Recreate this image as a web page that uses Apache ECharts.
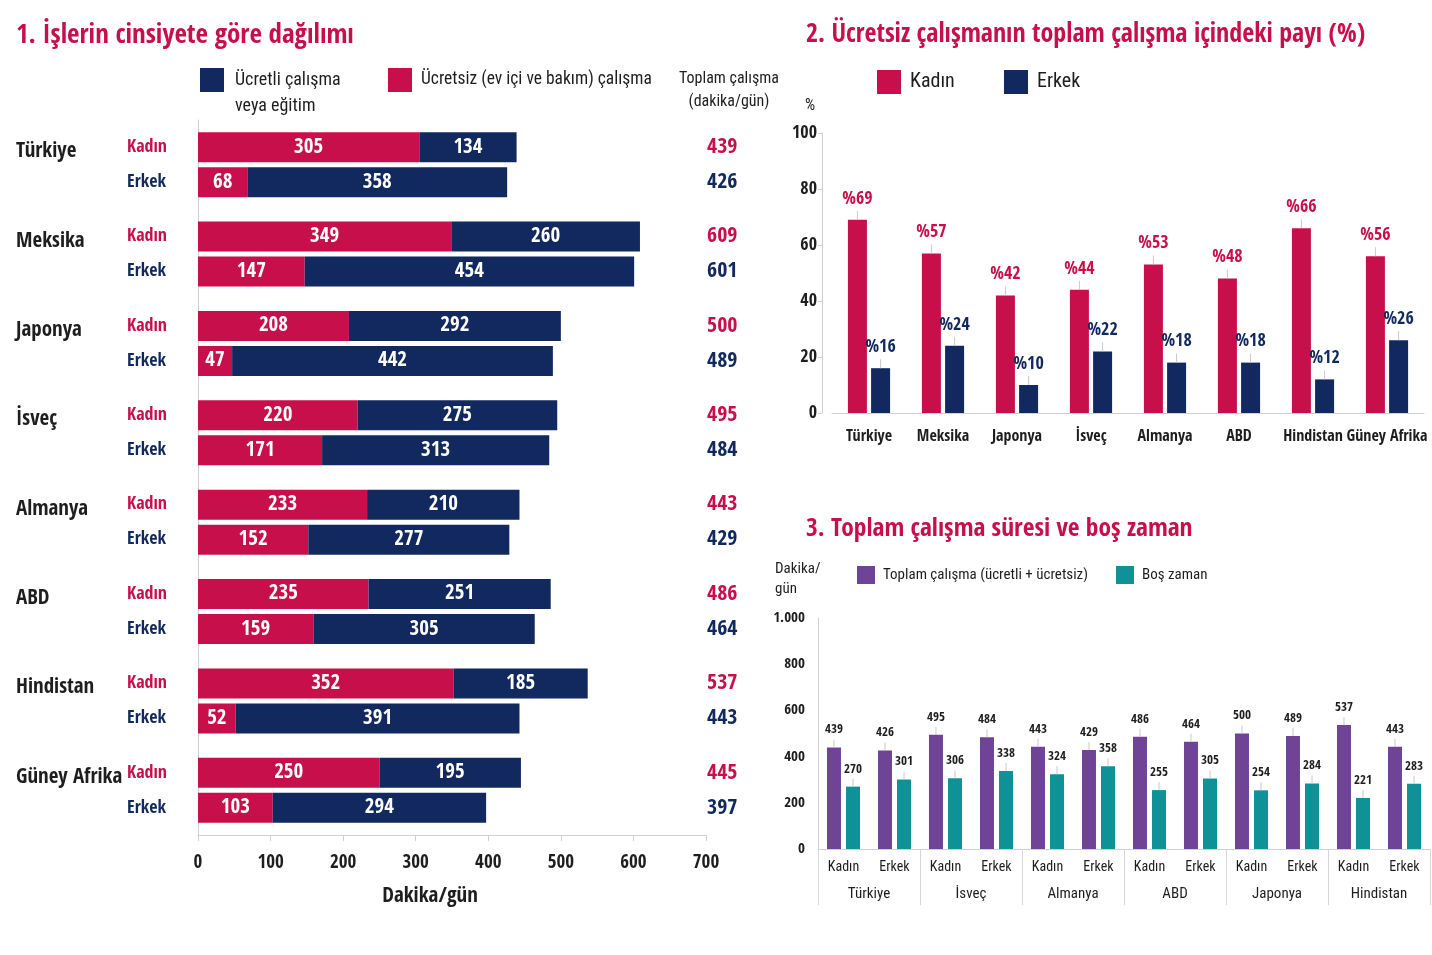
<!DOCTYPE html>
<html><head><meta charset="utf-8">
<script src="https://cdn.jsdelivr.net/npm/echarts@6/dist/echarts.min.js"></script>
<style>html,body{margin:0;padding:0;background:#fff}#c{width:1432px;height:955px}</style>
</head><body><div id="c"></div>
<script>
// ---- Chart 1 data ----
const countries1 = ['Türkiye','Meksika','Japonya','İsveç','Almanya','ABD','Hindistan','Güney Afrika'];
const womenUnpaid = [305,349,208,220,233,235,352,250];
const womenPaid   = [134,260,292,275,210,251,185,195];
const menUnpaid   = [68,147,47,171,152,159,52,103];
const menPaid     = [358,454,442,313,277,305,391,294];
const womenTotal  = [439,609,500,495,443,486,537,445];
const menTotal    = [426,601,489,484,429,464,443,397];
const xTicks1 = [0,100,200,300,400,500,600,700];
// ---- Chart 2 data ----
const countries2 = ['Türkiye','Meksika','Japonya','İsveç','Almanya','ABD','Hindistan','Güney Afrika'];
const womenShare = [69,57,42,44,53,48,66,56];
const menShare   = [16,24,10,22,18,18,12,26];
// ---- Chart 3 data ----
const countries3 = ['Türkiye','İsveç','Almanya','ABD','Japonya','Hindistan'];
const sexes3 = ['Kadın','Erkek'];
const totalWork = [439,426,495,484,443,429,486,464,500,489,537,443];
const leisure   = [270,301,306,338,324,358,255,305,254,284,221,283];

const CR = '#c70f4b', NV = '#11295e', PU = '#6f4396', TE = '#0e9197';
const FB = "'Open Sans Condensed','Roboto Condensed',sans-serif";
const FR = "'Roboto Condensed','Open Sans Condensed',sans-serif";
const TXT = '#1e1e1e';
const TICK = '#c9c9cf';
const cats3 = [];
countries3.forEach(() => sexes3.forEach(s => cats3.push(s)));

const chart = echarts.init(document.getElementById('c'));
const labelInside = {show: true, position: 'inside', color: '#fff', fontSize: 21, fontWeight: 'bold', fontFamily: FB};
const topLabel = (prefix, color, size, font, weight, tickH) => ({
  show: true, position: 'top', distance: 0,
  formatter: p => `{v|${prefix}${p.value}}\n{t| }`,
  rich: {
    v: {color: color, fontSize: size, fontFamily: font, fontWeight: weight, lineHeight: size + 6},
    t: {width: 1, height: tickH, lineHeight: tickH, backgroundColor: TICK, fontSize: 1}
  }
});

chart.setOption({
  animation: false,
  textStyle: {fontFamily: FR},
  title: [
    {text: '1. İşlerin cinsiyete göre dağılımı', left: 16, top: 22, padding: 0, textStyle: {color: CR, fontSize: 27, fontWeight: 'bold', fontFamily: FB}},
    {text: '2. Ücretsiz çalışmanın toplam çalışma içindeki payı (%)', left: 806, top: 22, padding: 0, textStyle: {color: CR, fontSize: 26, fontWeight: 'bold', fontFamily: FB}},
    {text: '3. Toplam çalışma süresi ve boş zaman', left: 806, top: 516, padding: 0, textStyle: {color: CR, fontSize: 25.5, fontWeight: 'bold', fontFamily: FB}},
    {text: 'veya eğitim', left: 235, top: 97, padding: 0, textStyle: {color: TXT, fontSize: 18, fontWeight: 'normal', fontFamily: FR}},
    {text: 'Toplam çalışma\n(dakika/gün)', left: 729, top: 67, padding: 0, textAlign: 'center', textStyle: {color: TXT, fontSize: 16, fontWeight: 'normal', lineHeight: 23, fontFamily: FR}},
    {text: '%', left: 805, top: 98, padding: 0, textStyle: {color: TXT, fontSize: 16, fontWeight: 'normal', fontFamily: FR}},
    {text: 'Dakika/\ngün', left: 775, top: 559, padding: 0, textStyle: {color: TXT, fontSize: 15, fontWeight: 'normal', lineHeight: 20, fontFamily: FR}}
  ],
  legend: [
    {data: ['Ücretli'], left: 200, top: 68, padding: 0, itemWidth: 24, itemHeight: 24, icon: 'rect',
     formatter: () => 'Ücretli çalışma',
     textStyle: {fontSize: 18, color: TXT, padding: [8, 0, 0, 6], fontFamily: FR}},
    {data: ['Ücretsiz'], left: 388, top: 68, padding: 0, itemWidth: 24, itemHeight: 24, icon: 'rect',
     formatter: () => 'Ücretsiz (ev içi ve bakım) çalışma',
     textStyle: {fontSize: 17.5, color: TXT, padding: [8, 0, 0, 4], fontFamily: FR}},
    {data: ['Kadın'], left: 877, top: 70, padding: 0, itemWidth: 24, itemHeight: 24, icon: 'rect',
     textStyle: {fontSize: 20, color: TXT, padding: [5, 0, 0, 4], fontFamily: FR}},
    {data: ['Erkek'], left: 1004, top: 70, padding: 0, itemWidth: 24, itemHeight: 24, icon: 'rect',
     textStyle: {fontSize: 20, color: TXT, padding: [5, 0, 0, 4], fontFamily: FR}},
    {data: ['Toplam çalışma (ücretli + ücretsiz)'], left: 857, top: 566, padding: 0, itemWidth: 18, itemHeight: 18, icon: 'rect',
     textStyle: {fontSize: 15, color: TXT, padding: [6, 0, 0, 3], fontFamily: FR}},
    {data: ['Boş zaman'], left: 1116, top: 566, padding: 0, itemWidth: 18, itemHeight: 18, icon: 'rect',
     textStyle: {fontSize: 15, color: TXT, padding: [6, 0, 0, 3], fontFamily: FR}}
  ],
  grid: [
    {left: 198, right: 726, top: 120, bottom: 120},
    {left: 832, right: 8, top: 133, bottom: 542},
    {left: 818, right: 2, top: 618, bottom: 106}
  ],
  xAxis: [
    {gridIndex: 0, type: 'value', min: 0, max: 700, interval: 100,
     name: 'Dakika/gün', nameLocation: 'middle', nameGap: 51,
     nameTextStyle: {fontSize: 21, color: TXT, fontWeight: 'bold', padding: [0, 44, 0, 0], fontFamily: FB},
     axisLine: {show: true, lineStyle: {color: '#cfcfd6'}},
     axisTick: {show: true, length: 6, lineStyle: {color: '#cfcfd6'}},
     splitLine: {show: false},
     axisLabel: {fontSize: 19, color: TXT, margin: 19, fontFamily: FB, fontWeight: 'bold', formatter: v => xTicks1.includes(v) ? String(v) : ''}},
    {gridIndex: 1, type: 'category', data: countries2,
     axisLine: {show: true, lineStyle: {color: '#cfcfd6'}}, axisTick: {show: false},
     axisLabel: {fontSize: 16, color: TXT, margin: 16, interval: 0, fontFamily: FB}},
    {gridIndex: 2, type: 'category', data: cats3,
     axisLine: {show: true, lineStyle: {color: '#cfcfd6'}}, axisTick: {show: false},
     axisLabel: {fontSize: 14, color: TXT, margin: 11, interval: 0, fontFamily: FR}},
    {gridIndex: 2, type: 'category', data: countries3, position: 'bottom',
     axisLine: {show: false},
     axisTick: {show: true, length: 56, lineStyle: {color: '#d6d6dc'}},
     axisLabel: {fontSize: 15, color: TXT, margin: 38, interval: 0, fontFamily: FR}}
  ],
  yAxis: [
    {gridIndex: 0, type: 'category', data: countries1, inverse: true,
     axisLine: {show: true, lineStyle: {color: '#cfcfd6'}}, axisTick: {show: false},
     axisLabel: {align: 'left', margin: 182, interval: 0,
       formatter: (v) => `{c|${v}}{k|Kadın}\n{c| }{e|Erkek}`,
       rich: {
         c: {width: 111, fontSize: 21, fontWeight: 'bold', color: TXT, lineHeight: 35, fontFamily: FB, padding: [9, 0, 0, 0]},
         k: {fontSize: 18, color: CR, lineHeight: 35, fontWeight: 'bold', fontFamily: FB},
         e: {fontSize: 18, color: NV, lineHeight: 35, fontWeight: 'bold', fontFamily: FB}
       }}},
    {gridIndex: 0, type: 'category', data: countries1, inverse: true, position: 'right',
     axisLine: {show: false}, axisTick: {show: false},
     axisLabel: {align: 'left', margin: 1, interval: 0,
       formatter: (v, i) => `{k|${womenTotal[i]}}\n{e|${menTotal[i]}}`,
       rich: {
         k: {fontSize: 22, fontWeight: 'bold', color: CR, lineHeight: 35, fontFamily: FB},
         e: {fontSize: 22, fontWeight: 'bold', color: NV, lineHeight: 35, fontFamily: FB}
       }}},
    {gridIndex: 1, type: 'value', min: 0, max: 100, interval: 20, offset: 10,
     axisLine: {show: true, lineStyle: {color: '#cfcfd6'}},
     axisTick: {show: true, length: 4, lineStyle: {color: '#cfcfd6'}},
     splitLine: {show: false},
     axisLabel: {fontSize: 18, color: TXT, margin: 5, fontFamily: FB}},
    {gridIndex: 2, type: 'value', min: 0, max: 1000, interval: 200,
     axisLine: {show: true, lineStyle: {color: '#cfcfd6'}},
     axisTick: {show: false},
     splitLine: {show: false},
     axisLabel: {fontSize: 15, color: TXT, margin: 13, fontFamily: FB,
       formatter: v => v >= 1000 ? (v / 1000) + '.000' : String(v)}}
  ],
  series: [
    {name: 'Ücretsiz', type: 'bar', stack: 'k', xAxisIndex: 0, yAxisIndex: 0, data: womenUnpaid,
     barWidth: 30, barGap: '17%', itemStyle: {color: CR}, label: labelInside},
    {name: 'Ücretli', type: 'bar', stack: 'k', xAxisIndex: 0, yAxisIndex: 0, data: womenPaid,
     barWidth: 30, barGap: '17%', itemStyle: {color: NV}, label: labelInside},
    {name: 'Ücretsiz', type: 'bar', stack: 'e', xAxisIndex: 0, yAxisIndex: 0, data: menUnpaid,
     barWidth: 30, barGap: '17%', itemStyle: {color: CR}, label: labelInside},
    {name: 'Ücretli', type: 'bar', stack: 'e', xAxisIndex: 0, yAxisIndex: 0, data: menPaid,
     barWidth: 30, barGap: '17%', itemStyle: {color: NV}, label: labelInside},

    {name: 'Kadın', type: 'bar', xAxisIndex: 1, yAxisIndex: 2, data: womenShare,
     barWidth: 19, barGap: '22%', itemStyle: {color: CR},
     label: topLabel('%', CR, 18, FB, 'bold', 9)},
    {name: 'Erkek', type: 'bar', xAxisIndex: 1, yAxisIndex: 2, data: menShare,
     barWidth: 19, barGap: '22%', itemStyle: {color: NV},
     label: topLabel('%', NV, 18, FB, 'bold', 9)},

    {name: 'Toplam çalışma (ücretli + ücretsiz)', type: 'bar', xAxisIndex: 2, yAxisIndex: 3, data: totalWork,
     barWidth: 14, barGap: '36%', itemStyle: {color: PU},
     label: topLabel('', TXT, 13, FB, 'normal', 8)},
    {name: 'Boş zaman', type: 'bar', xAxisIndex: 2, yAxisIndex: 3, data: leisure,
     barWidth: 14, barGap: '36%', itemStyle: {color: TE},
     label: topLabel('', TXT, 13, FB, 'normal', 8)}
  ]
});
</script></body></html>
